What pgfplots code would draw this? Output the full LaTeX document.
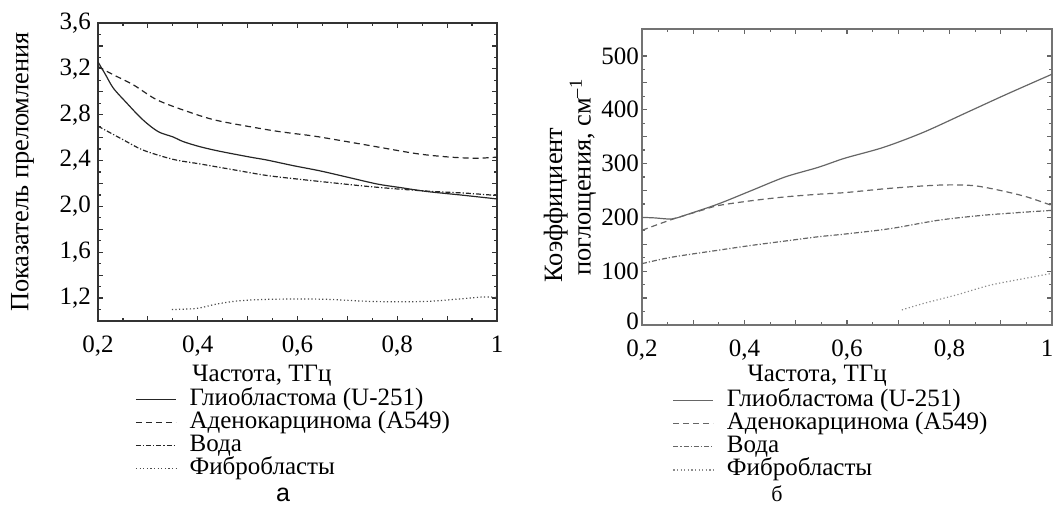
\documentclass[border=0pt]{standalone}
\usepackage{fontspec}
\setmainfont{Liberation Serif}
\newfontfamily\sansf{Liberation Sans}
\usepackage{pgfplots}
\pgfplotsset{compat=1.18}
\begin{document}
\begin{tikzpicture}[font=\fontsize{12.5}{15}\selectfont]
\useasboundingbox (0,0) rectangle (526.5pt,252pt);
\pgfplotsset{
  common/.style={
    scale only axis,
    xmin=0.2, xmax=1,
    xtick={0.2,0.3,0.4,0.5,0.6,0.7,0.8,0.9,1},
    xticklabels={{0,2},{},{0,4},{},{0,6},{},{0,8},{},1},
    minor xtick={0.25,0.35,0.45,0.55,0.65,0.75,0.85,0.95},
    tick align=inside,
    major tick length=2.6pt,
    minor tick length=1.4pt,
    /pgf/number format/assume math mode=true,
    xticklabel style={yshift=-4pt},
    xlabel={Частота, ТГц},
    legend cell align=left,
    legend image code/.code={\draw[##1, line width=0.6pt] (0pt,0pt) -- (20pt,0pt);},
    legend style={draw=none, fill=none, inner sep=0pt, row sep=0pt, column sep=5.5pt,
      nodes={inner xsep=1pt, inner ysep=0pt, text height=8.8pt, text depth=2.8pt}},
    legend entries={Глиобластома (U-251), Аденокарцинома (A549), Вода, Фибробласты},
  },
  glio/.style={line width=0.6pt},
  adeno/.style={line width=0.6pt, dash pattern=on 3pt off 2pt},
  water/.style={line width=0.6pt, dash pattern=on 2.5pt off 1pt on 0.6pt off 1pt},
  fibro/.style={line width=0.6pt, dash pattern=on 0.6pt off 1.2pt},
}
% ---------- left panel (a) ----------
\begin{axis}[common,
  at={(49pt,91.5pt)}, anchor=south west,
  width=199.5pt, height=149pt,
  ymin=1.0, ymax=3.6,
  ytick={1.0,1.2,1.4,1.6,1.8,2.0,2.2,2.4,2.6,2.8,3.0,3.2,3.4,3.6},
  yticklabels={{},{1,2},{},{1,6},{},{2,0},{},{2,4},{},{2,8},{},{3,2},{},{3,6}},
  minor y tick num=1,
  axis line style={black!80, line width=0.7pt},
  every tick/.style={black!80, line width=0.6pt},
  ylabel={Показатель преломления},
  ylabel style={at={(axis description cs:-0.189,0.5)}, anchor=center, font=\fontsize{13.2}{15}\selectfont},
  xlabel style={at={(axis description cs:0.411,-0.184)}, anchor=center},
  legend style={at={(axis description cs:0.0927,-0.2220)}, anchor=north west},
]
\addplot[glio, black!85, smooth] coordinates {(0.200,3.26)(0.215,3.15)(0.231,3.03)(0.258,2.90)(0.284,2.78)(0.305,2.70)(0.324,2.645)(0.351,2.605)(0.371,2.565)(0.405,2.52)(0.445,2.48)(0.505,2.43)(0.538,2.405)(0.592,2.355)(0.645,2.31)(0.700,2.255)(0.760,2.195)(0.805,2.165)(0.859,2.13)(0.926,2.10)(1.000,2.065)};
\addplot[adeno, black!85, smooth] coordinates {(0.200,3.22)(0.230,3.15)(0.271,3.06)(0.318,2.93)(0.378,2.83)(0.438,2.75)(0.538,2.67)(0.585,2.64)(0.638,2.61)(0.739,2.535)(0.839,2.46)(0.906,2.43)(0.959,2.42)(1.000,2.43)};
\addplot[water, black!85, smooth] coordinates {(0.200,2.70)(0.251,2.58)(0.291,2.49)(0.351,2.41)(0.405,2.37)(0.471,2.32)(0.538,2.27)(0.605,2.236)(0.672,2.205)(0.739,2.175)(0.806,2.15)(0.872,2.13)(0.939,2.115)(1.000,2.095)};
\addplot[fibro, black!70, smooth] coordinates {(0.348,1.10)(0.398,1.11)(0.438,1.148)(0.485,1.177)(0.552,1.19)(0.652,1.19)(0.752,1.17)(0.852,1.17)(0.919,1.19)(0.973,1.21)(1.000,1.205)};
\end{axis}
% ---------- right panel (b) ----------
\begin{axis}[common,
  at={(321pt,89.5pt)}, anchor=south west,
  width=205pt, height=148pt,
  xticklabels={{0,2},{},{0,4},{},{0,6},{},{0,8},{},{\hspace*{-5pt}1}},
  ymin=0, ymax=550,
  ytick={0,50,100,150,200,250,300,350,400,450,500},
  yticklabels={{\raisebox{4pt}{0}},{},100,{},200,{},300,{},400,{},500},
  minor y tick num=1,
  yticklabel style={xshift=2pt},
  axis line style={black!55, line width=0.7pt},
  every tick/.style={black!60, line width=0.6pt},
  ylabel={Коэффициент\hspace*{28pt}\\поглощения, см\textsuperscript{–1}},
  ylabel style={at={(axis description cs:-0.1756,0.5)}, anchor=center, align=center, font=\fontsize{13.2}{12.5}\selectfont},
  xlabel style={at={(axis description cs:0.427,-0.172)}, anchor=center},
  legend style={at={(axis description cs:0.0739,-0.2140)}, anchor=north west},
]
\addplot[glio, black!60, smooth] coordinates {(0.200,200)(0.225,199)(0.258,197)(0.284,204)(0.349,225)(0.414,250)(0.479,275)(0.544,293)(0.596,310)(0.671,330)(0.749,358)(0.834,395)(0.912,429)(1.000,466)};
\addplot[adeno, black!60, smooth] coordinates {(0.200,176)(0.258,196)(0.316,213)(0.349,222)(0.414,231)(0.479,238)(0.544,243)(0.596,246)(0.684,254)(0.781,260)(0.846,259)(0.899,250)(0.951,238)(1.000,222)};
\addplot[water, black!60, smooth] coordinates {(0.200,114)(0.258,126)(0.349,139)(0.414,148)(0.479,156)(0.544,164)(0.596,169)(0.684,179)(0.781,195)(0.879,205)(1.000,213)};
\addplot[fibro, black!45, smooth] coordinates {(0.707,28)(0.749,40)(0.814,56)(0.879,74)(0.944,86)(1.000,96)};
\end{axis}
\node[inner sep=0pt] at (141.5pt,4.6pt) {\sansf а};
\node[inner sep=0pt, font=\fontsize{11}{12}\selectfont] at (388.5pt,5.3pt) {б};
\end{tikzpicture}
\end{document}
